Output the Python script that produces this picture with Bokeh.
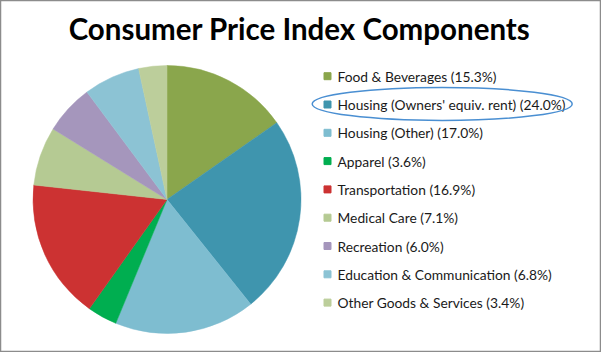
import math
from bokeh.plotting import figure
from bokeh.models import Range1d, ColumnDataSource
from bokeh.core.properties import value
from bokeh.embed import file_html
from bokeh.resources import INLINE

title = "Consumer Price Index Components"
categories = ["Food & Beverages", "Housing (Owners' equiv. rent)", "Housing (Other)",
              "Apparel", "Transportation", "Medical Care", "Recreation",
              "Education & Communication", "Other Goods & Services"]
shares = [15.3, 24.0, 17.0, 3.6, 16.9, 7.1, 6.0, 6.8, 3.4]
colors = ["#8AA64C", "#3F95AE", "#7EBDD0", "#00AE50", "#CC3232",
          "#B5CA93", "#A596BC", "#8CC3D4", "#BCCE9B"]
highlight = "Housing (Owners' equiv. rent)"

W, H = 601, 352
p = figure(width=W, height=H, x_range=Range1d(0, W), y_range=Range1d(0, H),
           output_backend="svg", toolbar_location=None, min_border=0)
p.axis.visible = False
p.grid.visible = False
p.outline_line_color = "#8C8C8C"
p.outline_line_width = 1.5
p.background_fill_color = "white"
p.border_fill_color = "white"

# pie
total = sum(shares)
starts, ends = [], []
cum = 0.0
for s in shares:
    starts.append(math.pi / 2 - 2 * math.pi * cum / total)
    cum += s
    ends.append(math.pi / 2 - 2 * math.pi * cum / total)
labels = [f"{c} ({s:.1f}%)" for c, s in zip(categories, shares)]
src = ColumnDataSource(dict(start=starts, end=ends, color=colors, label=labels))
cx, cy, r = 166.5, H - 199, 134
p.wedge(x=cx, y=cy, radius=r, radius_units="screen", start_angle="start", end_angle="end",
        direction="clock", fill_color="color", line_color="color", line_width=0.5, source=src)

# legend
lx, ly0, step = 327, 75.7, 28.3
ys = [H - (ly0 + i * step) for i in range(len(categories))]
lsrc = ColumnDataSource(dict(x=[lx] * len(ys), tx=[lx + 10] * len(ys), y=ys, color=colors, label=labels))
p.scatter(x="x", y="y", marker="square", size=7, fill_color="color", line_color="color", source=lsrc)
p.text(x="tx", y="y", text="label", text_font=value("Lato"), text_font_size="13.8px",
       text_baseline="middle", text_color="#1a1a1a", source=lsrc)

# highlight ellipse
hi = categories.index(highlight)
p.ellipse(x=441.7, y=ys[hi] + 0.6, width=260, height=33, fill_color=None,
          line_color="#4A8FD2", line_width=1.5)

# title
p.text(x=[299], y=[H - 28], text=[title], text_font=value("Lato"), text_font_style="bold",
       text_font_size="29.5px", text_align="center", text_baseline="alphabetic", text_color="black")

open("out.html", "w").write(file_html(p, INLINE))
